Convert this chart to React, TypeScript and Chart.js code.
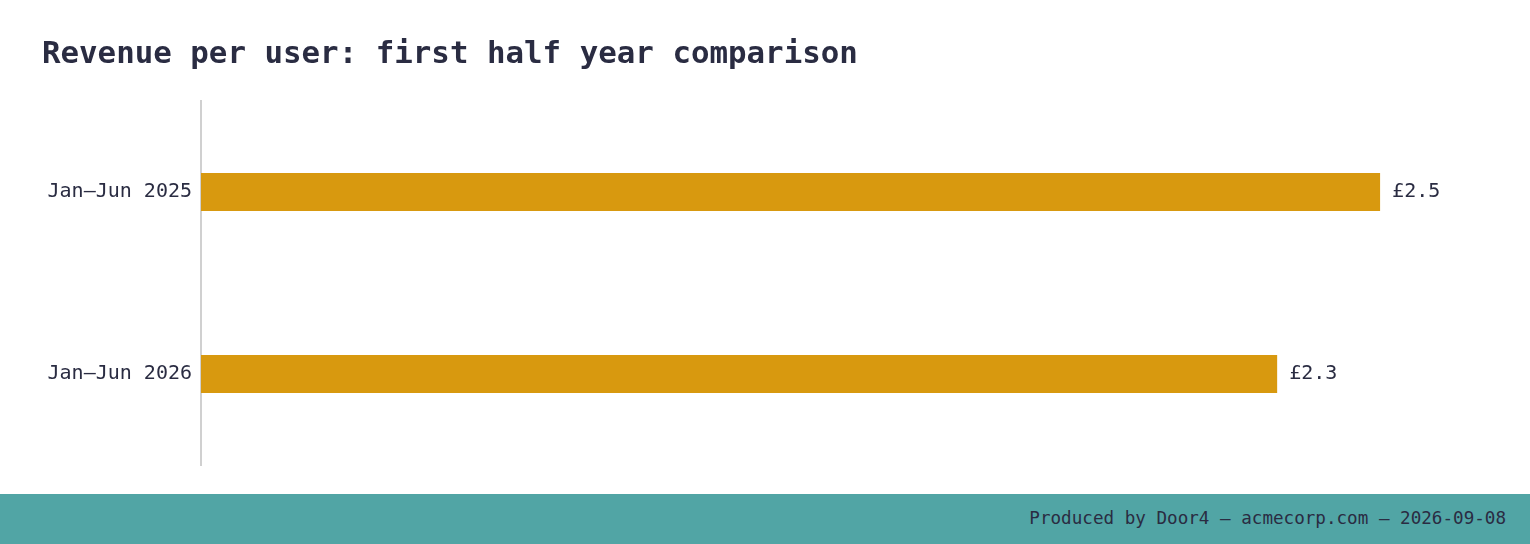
import React, { useEffect, useRef } from "react";
import { Chart, registerables } from "chart.js";

Chart.register(...registerables);

const TITLE = "Revenue per user: first half year comparison";
const FOOTER = "Produced by Door4 — acmecorp.com — 2026-09-08";
const categories = ["Jan–Jun 2025", "Jan–Jun 2026"];
const revenuePerUser = [2.52, 2.3];
const valueLabels = ["£2.5", "£2.3"];

const INK = "#2a2c42";
const BAR = "#d8990f";
const TEAL = "#51a5a5";
const MONO = "'DejaVu Sans Mono', monospace";

const valueLabelPlugin = {
  id: "valueLabels",
  afterDatasetsDraw(chart: any) {
    const { ctx } = chart;
    const meta = chart.getDatasetMeta(0);
    ctx.save();
    ctx.font = `20px ${MONO}`;
    ctx.fillStyle = INK;
    ctx.textAlign = "left";
    ctx.textBaseline = "middle";
    meta.data.forEach((bar: any, i: number) => {
      ctx.fillText(valueLabels[i], bar.x + 12, bar.y);
    });
    ctx.restore();
  },
};

export default function App() {
  const ref = useRef<HTMLCanvasElement>(null);

  useEffect(() => {
    if (!ref.current) return;
    const chart = new Chart(ref.current, {
      type: "bar",
      data: {
        labels: categories,
        datasets: [
          {
            data: revenuePerUser,
            backgroundColor: BAR,
            borderWidth: 0,
            categoryPercentage: 1,
            barPercentage: 0.208,
          },
        ],
      },
      options: {
        indexAxis: "y",
        animation: false,
        responsive: true,
        maintainAspectRatio: false,
        layout: { padding: { left: 42, right: 32, top: 37, bottom: 29 } },
        plugins: {
          legend: { display: false },
          tooltip: { enabled: false },
          title: {
            display: true,
            text: TITLE,
            align: "start",
            color: INK,
            font: { family: MONO, size: 30.8, weight: "bold" },
            padding: { top: 0, bottom: 27 },
          },
        },
        scales: {
          x: {
            display: false,
            min: 0,
            max: Math.max(...revenuePerUser) * 1.1,
          },
          y: {
            grid: { display: false, drawTicks: false },
            border: { display: true, color: "#d0d0d0", width: 2 },
            ticks: {
              color: INK,
              padding: 9,
              font: { family: MONO, size: 20 },
            },
            afterFit(scale: any) {
              scale.width = 159;
            },
          },
        },
      },
      plugins: [valueLabelPlugin],
    });
    return () => chart.destroy();
  }, []);

  return (
    <div style={{ position: "absolute", left: 0, top: 0, width: 1530, height: 544, background: "#fff" }}>
      <div style={{ position: "relative", width: 1530, height: 494 }}>
        <canvas ref={ref} />
      </div>
      <div
        style={{
          height: 50,
          background: TEAL,
          color: INK,
          fontFamily: MONO,
          fontSize: 17.6,
          display: "flex",
          alignItems: "center",
          justifyContent: "flex-end",
          paddingRight: 24,
          paddingBottom: 3,
          boxSizing: "border-box",
        }}
      >
        {FOOTER}
      </div>
    </div>
  );
}
